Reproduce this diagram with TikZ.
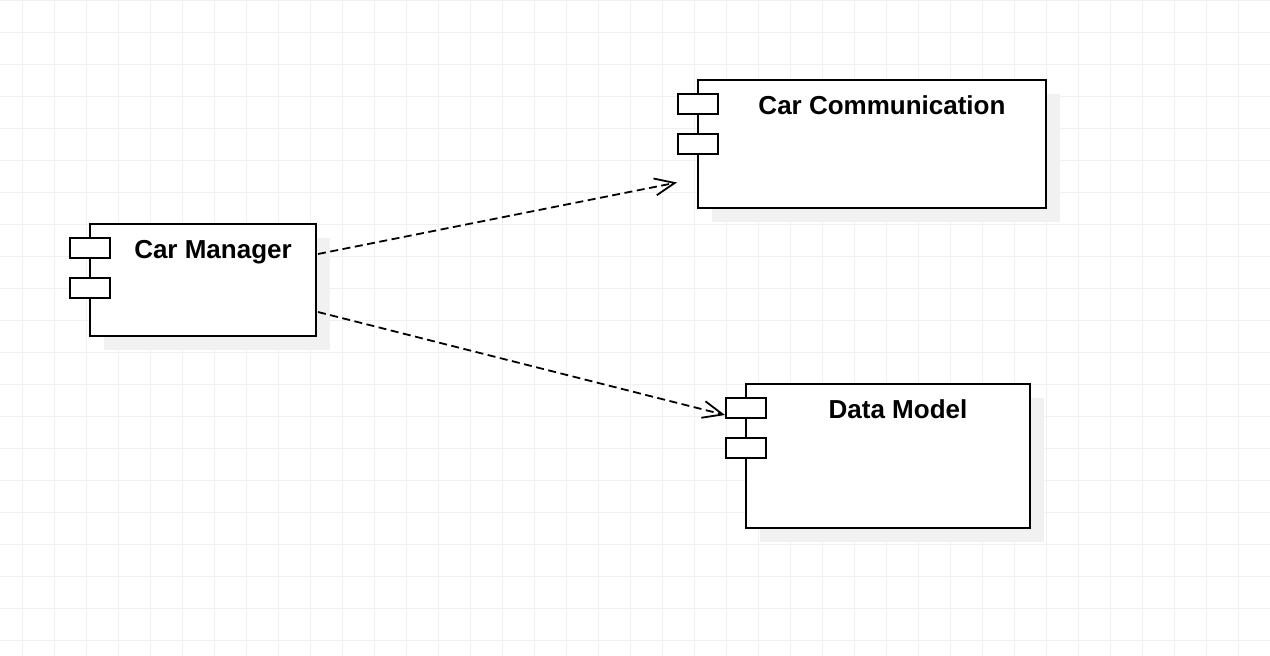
\documentclass[tikz,border=0pt]{standalone}
\usepackage{fontspec}
\setmainfont{Liberation Sans}
\usetikzlibrary{arrows.meta,calc,shadows}
\definecolor{gridc}{HTML}{F0F0F0}
\definecolor{shadowc}{HTML}{F1F1F1}
\tikzset{
  comp/.style={draw=black, line width=2pt, fill=white, rectangle, anchor=north west,
    outer sep=0pt, inner sep=0pt,
    drop shadow={shadow xshift=14pt, shadow yshift=-14pt, fill=shadowc, draw=none, opacity=1}},
  port/.style={draw=black, line width=2pt, fill=white, rectangle, minimum width=40pt,
    minimum height=20pt, inner sep=0pt, outer sep=0pt},
  title/.style={font=\fontsize{26}{30}\selectfont\bfseries, anchor=base, inner sep=0pt},
  dep/.style={line width=1.8pt, dash pattern=on 8pt off 4.5pt,
    -{Straight Barb[length=20pt,width=17pt]}},
  gridline/.style={draw=gridc, line width=1pt},
}
\begin{document}
\begin{tikzpicture}[x=1pt,y=-1pt]
\useasboundingbox (0,0) rectangle (1270,656);
\fill[white] (0,0) rectangle (1270,656);
\foreach \i in {0,...,39} \draw[gridline] ({22+32*\i},0) -- ({22+32*\i},656);
\foreach \j in {0,...,20} \draw[gridline] (0,{32*\j}) -- (1270,{32*\j});

% components
\node[comp, minimum width=226pt, minimum height=112pt] (cm) at (90,224) {};
\node[comp, minimum width=348pt, minimum height=128pt] (cc) at (698,80) {};
\node[comp, minimum width=284pt, minimum height=144pt] (dm) at (746,384) {};

% ports
\node[port] (cmp1) at ($(cm.north west)+(0,24)$) {};
\node[port] (cmp2) at ($(cm.north west)+(0,64)$) {};
\node[port] (ccp1) at ($(cc.north west)+(0,24)$) {};
\node[port] (ccp2) at ($(cc.north west)+(0,64)$) {};
\node[port] (dmp1) at ($(dm.north west)+(0,24)$) {};
\node[port] (dmp2) at ($(dm.north west)+(0,64)$) {};

% titles
\node[title] (cmt) at ($(cm.north)+(10,34)$) {Car Manager};
\node[title] (cct) at ($(cc.north)+(10,34)$) {Car Communication};
\node[title] (dmt) at ($(dm.north)+(10,34)$) {Data Model};

% dependencies
\coordinate (s1) at ($(cm.north east)+(2,30)$);
\coordinate (e1) at ($(cc.south west)+(-21,-25.5)$);
\coordinate (s2) at ($(cm.north east)+(2,88)$);
\coordinate (e2) at ($(dmp1.south west)+(-1,-3)$);
\draw[dep] (s1) -- (e1);
\draw[dep] (s2) -- (e2);
\end{tikzpicture}
\end{document}
